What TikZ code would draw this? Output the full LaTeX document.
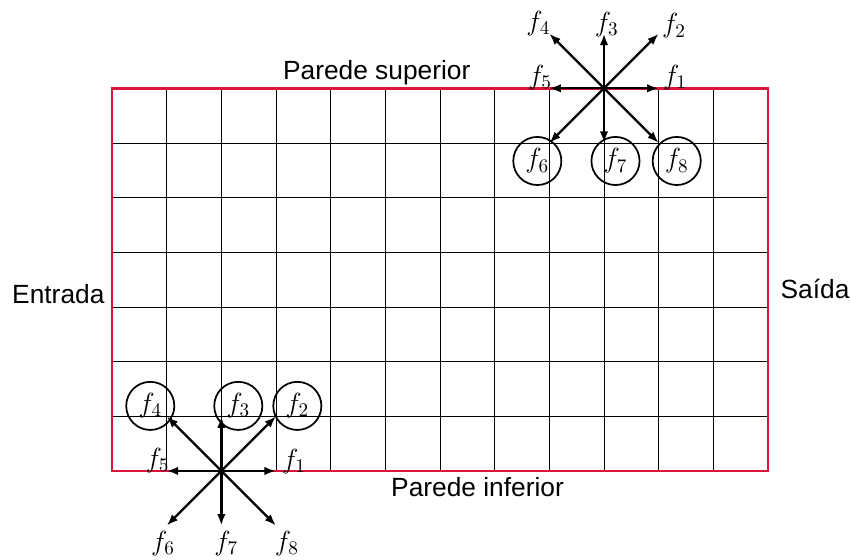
\documentclass[tikz,border=0pt]{standalone}
\usepackage{fontspec}
\newfontfamily\wallfont{Liberation Sans}
\usetikzlibrary{arrows.meta}
\definecolor{wallred}{RGB}{220,20,60}
\tikzset{
  gridline/.style={draw=black, line width=0.45pt},
  border/.style={draw=wallred, line width=1.5pt},
  vec/.style={line width=1.2pt, -{Latex[length=6pt,width=4.4pt]}},
  lbl/.style={inner sep=0pt, font=\fontsize{14.4}{17}\selectfont},
  clbl/.style={circle, draw, line width=0.9pt, inner sep=0pt, minimum size=0.88cm, font=\fontsize{14.4}{17}\selectfont},
  wall/.style={inner sep=0pt, anchor=base, font=\wallfont\fontsize{13.7}{16}\selectfont}
}
\begin{document}
\begin{tikzpicture}
\useasboundingbox (-2.049,-1.628) rectangle (13.518,8.615);
% grid
\draw[gridline] (0,0) grid (12,7);
\draw[border] (0,0) rectangle (12,7);
% wall texts
\node[wall] (sup) at (4.842,7.165) {Parede superior};
\node[wall] (inf) at (6.686,-0.476) {Parede inferior};
\node[wall] (ent) at (-0.982,3.066) {Entrada};
\node[wall] (sai) at (12.86,3.16) {Saída};
% top star
\coordinate (T) at (9,7);
\coordinate (T1) at (10,7);
\coordinate (T2) at (10,8);
\coordinate (T3) at (9,8);
\coordinate (T4) at (8,8);
\coordinate (T5) at (8,7);
\coordinate (T6) at (8,6);
\coordinate (T7) at (9,6);
\coordinate (T8) at (10,6);
\foreach \i in {1,...,8} {\draw[vec] (T) -- (T\i);}
\node[lbl] (tf1) at (10.30,7.19) {$f_1$};
\node[lbl] (tf2) at (10.28,8.14) {$f_2$};
\node[lbl] (tf3) at (9.05,8.16) {$f_3$};
\node[lbl] (tf4) at (7.80,8.18) {$f_4$};
\node[lbl] (tf5) at (7.83,7.19) {$f_5$};
\node[clbl] (tf6) at (7.78,5.67) {$f_6$};
\node[clbl] (tf7) at (9.21,5.67) {$f_7$};
\node[clbl] (tf8) at (10.33,5.67) {$f_8$};
% bottom star
\coordinate (B) at (2,0);
\coordinate (B1) at (3,0);
\coordinate (B2) at (3,1);
\coordinate (B3) at (2,1);
\coordinate (B4) at (1,1);
\coordinate (B5) at (1,0);
\coordinate (B6) at (1,-1);
\coordinate (B7) at (2,-1);
\coordinate (B8) at (3,-1);
\foreach \i in {1,...,8} {\draw[vec] (B) -- (B\i);}
\node[lbl] (bf1) at (3.33,0.18) {$f_1$};
\node[clbl] (bf2) at (3.39,1.19) {$f_2$};
\node[clbl] (bf3) at (2.31,1.19) {$f_3$};
\node[clbl] (bf4) at (0.70,1.19) {$f_4$};
\node[lbl] (bf5) at (0.832,0.19) {$f_5$};
\node[lbl] (bf6) at (0.933,-1.33) {$f_6$};
\node[lbl] (bf7) at (2.09,-1.33) {$f_7$};
\node[lbl] (bf8) at (3.20,-1.33) {$f_8$};
\end{tikzpicture}
\end{document}
